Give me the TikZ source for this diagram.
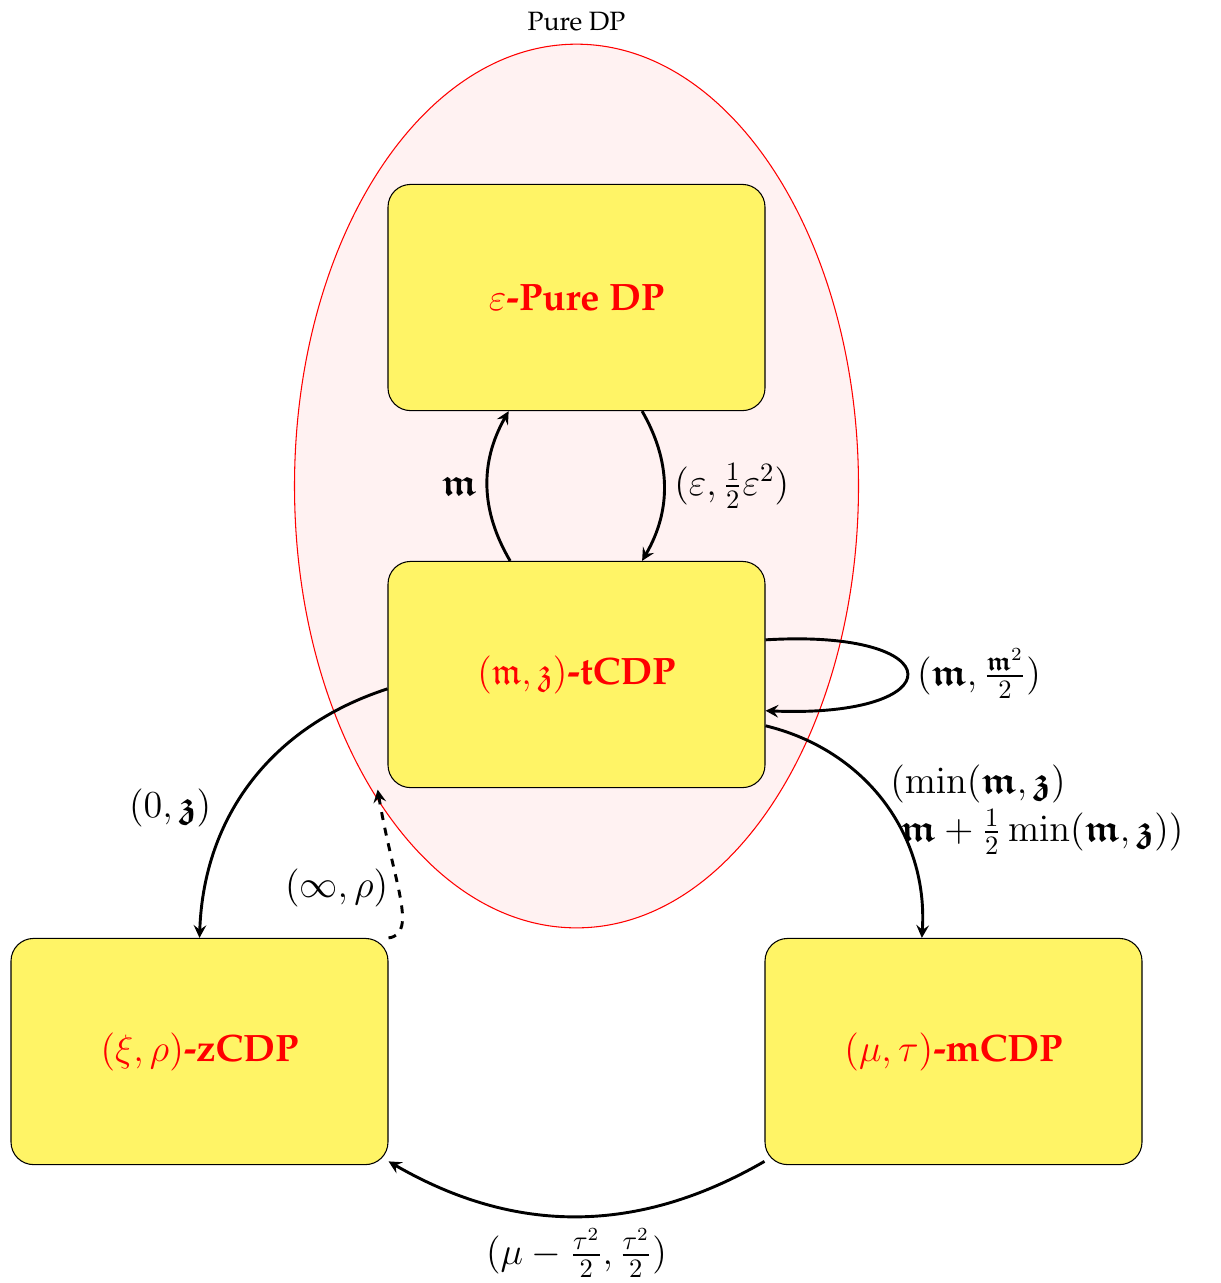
\documentclass[tikz,border=0pt]{standalone}
\usepackage[T1]{fontenc}
\renewcommand{\rmdefault}{ppl}
\usepackage{amsmath,amssymb}
\usetikzlibrary{arrows}
\definecolor{boxyellow}{HTML}{FFF466}
\tikzset{
  dpbox/.style={draw, fill=boxyellow, rounded corners=0.3cm, minimum width=5cm, minimum height=3cm, font=\Large, text=red},
  conv/.style={->, >=stealth, line width=1.1pt},
  lbl/.style={font=\Large}
}
\newcommand{\fm}{\boldsymbol{\mathfrak{m}}}
\newcommand{\fz}{\boldsymbol{\mathfrak{z}}}
\begin{document}
\begin{tikzpicture}
\useasboundingbox (-7.646,3.946) rectangle (8.535,-13.07);
\draw[red, fill=red!5] (0,-2.5) ellipse (3.74cm and 5.86cm);
\node (puretitle) at (0,3.66) {Pure DP};
\node[dpbox] (pure) at (0,0) {$\varepsilon$\textbf{-Pure DP}};
\node[dpbox] (tcdp) at (0,-5) {$(\mathfrak{m},\mathfrak{z})$\textbf{-tCDP}};
\node[dpbox] (zcdp) at (-5,-10) {$(\xi,\rho)$\textbf{-zCDP}};
\node[dpbox] (mcdp) at (5,-10) {$(\mu,\tau)$\textbf{-mCDP}};
\draw[conv] ([xshift=0.87cm]pure.south) to[bend left=30] node[lbl,right] {$(\varepsilon,\tfrac{1}{2}\varepsilon^2)$} ([xshift=0.87cm]tcdp.north);
\draw[conv] ([xshift=-0.88cm]tcdp.north) to[bend left=30] node[lbl,left] {$\fm$} ([xshift=-0.9cm]pure.south);
\draw[conv] ([yshift=0.46cm]tcdp.east) .. controls +(2.5,0.15) and +(2.5,-0.1) .. node[lbl,right] {$(\fm,\frac{\fm^2}{2})$} ([yshift=-0.48cm]tcdp.east);
\draw[conv] ([yshift=-0.19cm]tcdp.west) to[bend right=35] node[lbl,left,pos=0.5,yshift=-0.35cm,xshift=-0.4cm] {$(0,\fz)$} (zcdp.north);
\draw[conv] ([yshift=-0.68cm]tcdp.east) to[bend left=40] node[lbl,right,align=left,xshift=-0.05cm,yshift=-0.1cm] {$(\min(\fm,\fz)$\\ \;$\fm+\tfrac{1}{2}\min(\fm,\fz))$} ([xshift=-0.42cm]mcdp.north);
\draw[conv,dashed] (zcdp.north east) .. controls +(0.4,0.05) and +(0.2,-1.2) .. node[lbl,left,pos=0.55] {$(\infty,\rho)$} ([xshift=-0.13cm,yshift=-0.02cm]tcdp.south west);
\draw[conv] ([yshift=0.05cm]mcdp.south west) to[bend left=30] node[lbl,below=0.02cm] {$(\mu-\frac{\tau^2}{2},\frac{\tau^2}{2})$} ([yshift=0.05cm]zcdp.south east);
\end{tikzpicture}
\end{document}
